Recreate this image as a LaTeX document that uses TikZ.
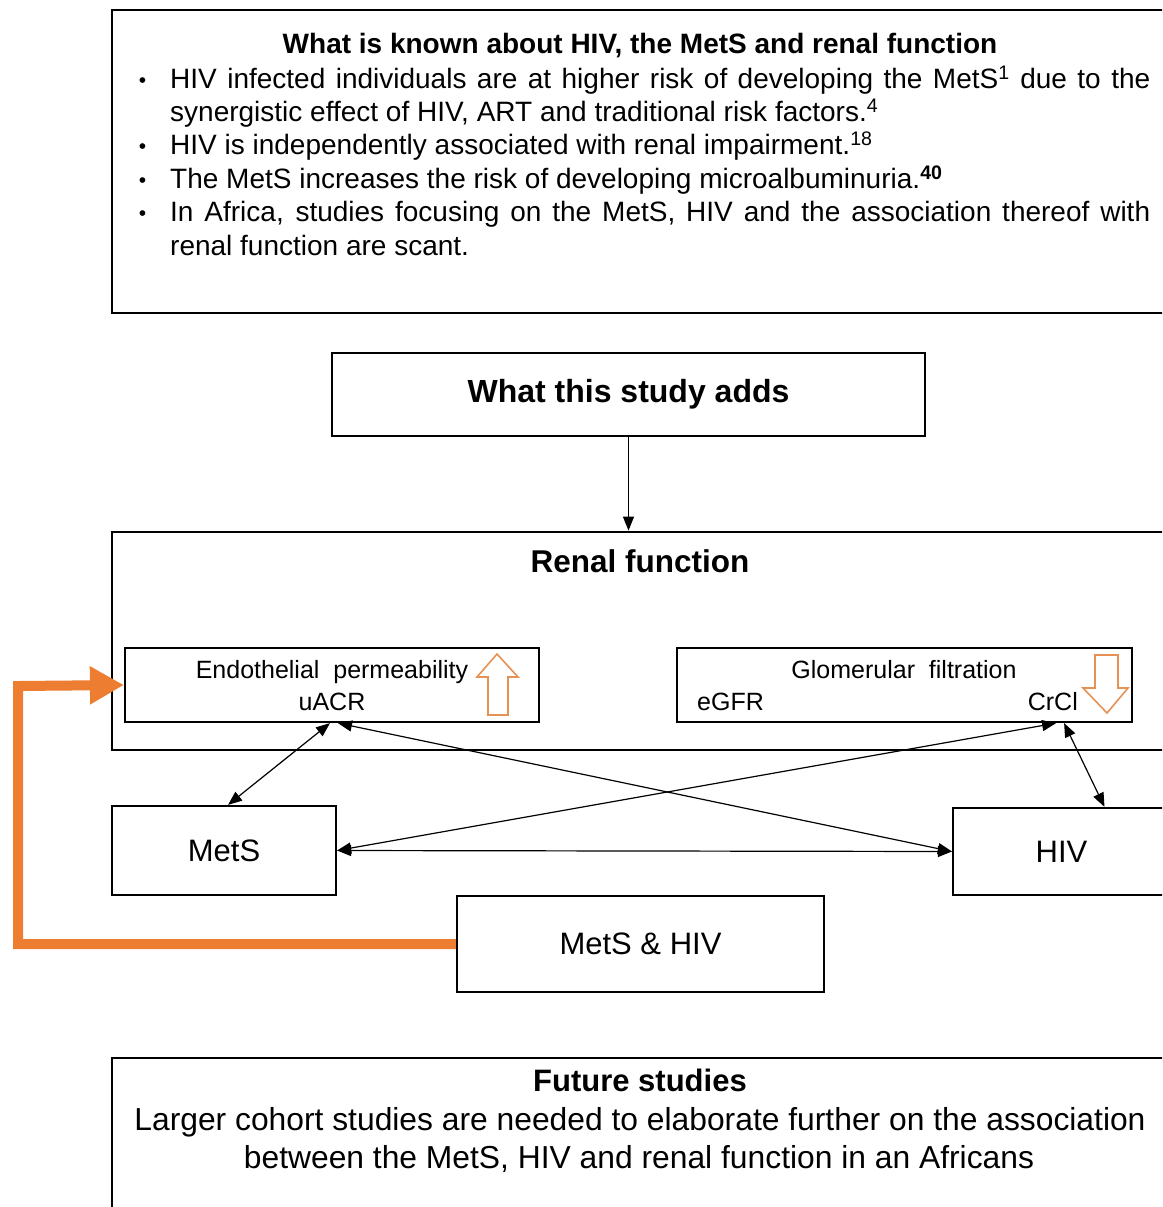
\documentclass[tikz,border=0pt]{standalone}
\usepackage{fontspec}
\setmainfont{Liberation Sans}
\usetikzlibrary{arrows.meta}
\definecolor{orng}{RGB}{237,125,49}
\definecolor{orngline}{RGB}{232,145,85}
\begin{document}
\begin{tikzpicture}[x=1pt,y=-1pt,
  bigbox/.style={draw, line width=2.8pt, inner sep=0pt},
  smallbox/.style={draw, line width=2.2pt, inner sep=0pt},
  conn/.style={line width=1.2pt, {Triangle[length=14pt,width=11pt]}-{Triangle[length=14pt,width=11pt]}},
  blockarrow/.style={draw=orngline, line width=1.6pt, line join=miter},
  txt/.style={inner sep=0pt, font=\fontsize{25}{30}\selectfont},
  bigtxt/.style={inner sep=0pt, font=\fontsize{31}{36}\selectfont},
]
\useasboundingbox (0,0) rectangle (1162,1207);
\clip (0,0) rectangle (1162,1207);

% --- What is known box
\node[bigbox, minimum width=1060pt, minimum height=303pt] (known) at (642,161.5) {};
\node[inner sep=0pt, font=\fontsize{28}{33}\selectfont\bfseries, anchor=base] (knowntitle) at (640,53)
  {What is known about HIV, the MetS and renal function};
\newcommand{\bul}{\noindent\strut\llap{\raisebox{1pt}{\fontsize{21}{21}\selectfont\textbullet}\hspace{24pt}}}
\node[anchor=north west, inner sep=0pt, text width=980pt, align=justify,
      font=\fontsize{28}{33.4}\selectfont] (knownlist) at (170,64.5) {%
\parindent=0pt
\bul HIV infected individuals are at higher risk of developing the MetS\textsuperscript{1} due to the\linebreak
synergistic effect of HIV, ART and traditional risk factors.\textsuperscript{4}\par
\bul HIV is independently associated with renal impairment.\textsuperscript{18}\par
\bul The MetS increases the risk of developing microalbuminuria.\textsuperscript{\textbf{40}}\par
\bul In Africa, studies focusing on the MetS, HIV and the association thereof with\linebreak
renal function are scant.\par};

% --- What this study adds
\node[bigbox, minimum width=593pt, minimum height=83pt, font=\fontsize{32}{37}\selectfont\bfseries] (study) at (628.5,394.5) {What this study adds};

% --- Renal function
\node[bigbox, minimum width=1060pt, minimum height=218pt] (renal) at (642,641) {};
\node[inner sep=0pt, font=\fontsize{31.5}{36}\selectfont\bfseries, anchor=base] (renaltitle) at (640,572) {Renal function};
\draw[line width=1.2pt, -{Triangle[length=14pt,width=11pt]}] (study.south) -- (study.south |- renal.north);

\node[smallbox, minimum width=414pt, minimum height=74pt] (endo) at (332,685) {};
\node[txt, anchor=base] (endotext) at (332,678) {Endothelial\ \ permeability};
\node[txt, anchor=base] (uacr) at (332,710) {uACR};
\draw[blockarrow] (497,654) -- (518,677) -- (508,677) -- (508,715) -- (488,715) -- (488,677) -- (477,677) -- cycle;

\node[smallbox, minimum width=455pt, minimum height=74pt] (glom) at (904.5,685) {};
\node[txt, anchor=base] (glomtext) at (904,678) {Glomerular\ \ filtration};
\node[txt, anchor=base west] (egfr) at (697,710) {eGFR};
\node[txt, anchor=base east] (crcl) at (1078,710) {CrCl};
\draw[blockarrow] (1095,655) -- (1118,655) -- (1118,688) -- (1128,688) -- (1107,713) -- (1083,688) -- (1095,688) -- cycle;

% --- MetS, HIV, both
\node[smallbox, bigtxt, minimum width=224pt, minimum height=89pt] (mets) at (224,850.5) {MetS};
\node[smallbox, bigtxt, minimum width=217pt, minimum height=87pt] (hiv) at (1061.5,851.5) {HIV};
\node[smallbox, bigtxt, minimum width=367pt, minimum height=96pt] (both) at (640.5,944) {MetS \& HIV};

% --- connectors
\draw[conn] ([xshift=4pt]mets.north) -- ([xshift=-2pt]endo.south);
\draw[conn] (hiv.west) -- ([xshift=6pt]endo.south);
\draw[conn] (mets.east) -- ([xshift=-77pt]glom.south east);
\draw[conn] (mets.east) -- (hiv.west);
\draw[conn] ([xshift=43pt]hiv.north) -- ([xshift=-69pt]glom.south east);

% --- orange feedback arrow
\coordinate (obot) at (18,944);
\coordinate (otop) at (18,686);
\draw[orng, line width=10pt, line join=miter, -{Triangle[length=34pt,width=36pt]}]
  (both.west) -- (obot) -- (otop) -- (endo.west);

% --- Future studies
\node[bigbox, minimum width=1060pt, minimum height=160pt] (future) at (642,1138) {};
\node[inner sep=0pt, font=\fontsize{31}{36}\selectfont\bfseries, anchor=base] (futuretitle) at (640,1091) {Future studies};
\node[inner sep=0pt, font=\fontsize{31.8}{37}\selectfont, anchor=base] (future1) at (640,1130) {Larger cohort studies are needed to elaborate further on the association};
\node[inner sep=0pt, font=\fontsize{31.8}{37}\selectfont, anchor=base] (future2) at (639,1168) {between the MetS, HIV and renal function in an Africans};
\end{tikzpicture}
\end{document}
